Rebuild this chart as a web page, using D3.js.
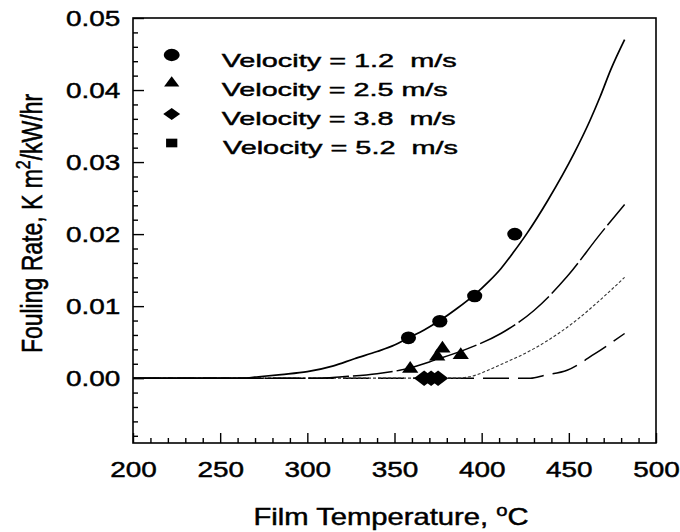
<!DOCTYPE html>
<html>
<head>
<meta charset="utf-8">
<script src="https://cdn.jsdelivr.net/npm/d3@7"></script>
<style>
  body { margin: 0; background: #fff; }
  svg { display: block; }
  text { font-family: "Liberation Sans", Arial, sans-serif; fill: #000; stroke: #000; stroke-width: 0.45px; }
</style>
</head>
<body>
<svg id="chart" width="680" height="532"></svg>
<script>
const W = 680, H = 532;
// scan is stretched sideways, so text and symbols get widened too
const stretch = 1.27;

const tempTicks = [200, 250, 300, 350, 400, 450, 500];
const rateTicks = [0.00, 0.01, 0.02, 0.03, 0.04, 0.05];

// fitted curves, [film temperature, fouling rate]
const curve12 = [[200,0],[262,0],[272,0.0002],[285,0.0005],[300,0.0009],[315,0.0017],[327,0.0027],[340,0.0037],[350,0.0046],[358,0.0056],[367,0.0067],[376,0.0080],[386,0.0097],[396,0.0116],[404,0.0134],[411,0.0152],[418,0.0174],[426,0.0201],[438,0.0247],[453,0.0312],[462,0.0357],[468,0.0391],[474,0.0428],[482,0.0470]];
const curve25 = [[200,0],[305,0],[320,0.0002],[340,0.0006],[353,0.0011],[360,0.0015],[373,0.0025],[392,0.0041],[411,0.0062],[430,0.0094],[449,0.0141],[468,0.0200],[482,0.0241]];
const curve38 = [[200,0],[385,0],[393,0.0002],[411,0.0019],[430,0.0041],[444,0.0062],[452,0.0076],[470,0.0113],[482,0.0140]];
const curve52 = [[200,0],[428,0],[436,0.0004],[449,0.0011],[465,0.0034],[482,0.0062]];

// measured points
const points12 = [[358,0.0056],[376,0.0079],[396,0.0114],[419,0.0200]];
const points25 = [[359,0.0013],[374.5,0.0030],[377.5,0.0041],[388,0.0032]];
const points38 = [[367,0],[371,0],[375,0]];

const legendLabels = ["Velocity = 1.2  m/s", "Velocity = 2.5 m/s", "Velocity = 3.8  m/s", "Velocity = 5.2  m/s"];

const svg = d3.select("#chart");
const x = d3.scaleLinear().domain([200, 500]).range([133, 656]);
const y = d3.scaleLinear().domain([-0.009, 0.05]).range([443, 18]);

// wide diamond like the scan
const wideDiamond = {
    draw(ctx, size) {
        const h = Math.sqrt(size / 2);
        ctx.moveTo(0, -h);
        ctx.lineTo(h * 1.1, 0);
        ctx.lineTo(0, h);
        ctx.lineTo(-h * 1.1, 0);
        ctx.closePath();
    }
};

// --- axes ---
const xMinor = d3.range(210, 500, 10).filter(v => v % 50 !== 0);
const yMinor = d3.range(-8, 50, 2).filter(v => v % 10 !== 0).map(v => v / 1000);

svg.append("g")
    .attr("transform", "translate(0,443)")
    .call(d3.axisBottom(x).tickValues(xMinor).tickSizeInner(-5).tickSizeOuter(0).tickFormat(""))
    .call(g => g.select(".domain").remove());

svg.append("g")
    .attr("transform", "translate(133,0)")
    .call(d3.axisLeft(y).tickValues(yMinor).tickSizeInner(-5).tickSizeOuter(0).tickFormat(""))
    .call(g => g.select(".domain").remove());

const xAxis = svg.append("g")
    .attr("transform", "translate(0,443)")
    .call(d3.axisBottom(x).tickValues(tempTicks).tickSizeInner(-10).tickSizeOuter(0).tickPadding(18))
    .call(g => g.select(".domain").remove());
xAxis.selectAll("text")
    .attr("font-size", 22)
    .attr("transform", `scale(${stretch},1)`);

const yAxis = svg.append("g")
    .attr("transform", "translate(133,0)")
    .call(d3.axisLeft(y).tickValues(rateTicks).tickSizeInner(-11).tickSizeOuter(0).tickPadding(10).tickFormat(d3.format(".2f")))
    .call(g => g.select(".domain").remove());
yAxis.selectAll("text")
    .attr("font-size", 22)
    .attr("transform", `scale(${stretch},1)`);

svg.selectAll(".tick line").attr("stroke", "#000").attr("stroke-width", 1.4);

// frame
svg.append("rect")
    .attr("x", x(200)).attr("y", y(0.05))
    .attr("width", x(500) - x(200)).attr("height", y(-0.009) - y(0.05))
    .attr("fill", "none").attr("stroke", "#000").attr("stroke-width", 1.6);

// --- curves ---
const line = d3.line()
    .x(d => x(d[0]))
    .y(d => y(d[1]))
    .curve(d3.curveMonotoneX);

const curves = [
    {data: curve52, dash: "26,9", width: 1.5, color: "#000"},
    {data: curve38, dash: "3,2", width: 1.1, color: "#333"},
    {data: curve25, dash: "40,4", width: 1.5, color: "#000"},
    {data: curve12, dash: null, width: 1.7, color: "#000"}
];
svg.selectAll(".curve")
    .data(curves)
    .enter().append("path")
    .attr("class", "curve")
    .attr("d", d => line(d.data))
    .attr("fill", "none")
    .attr("stroke", d => d.color)
    .attr("stroke-width", d => d.width)
    .attr("stroke-dasharray", d => d.dash);

// --- markers ---
function drawPoints(data, type, size) {
    svg.append("g").selectAll("path")
        .data(data)
        .enter().append("path")
        .attr("d", d3.symbol().type(type).size(size))
        .attr("transform", d => `translate(${x(d[0])},${y(d[1])}) scale(1.2,1)`)
        .attr("fill", "#000");
}
drawPoints(points12, d3.symbolCircle, 125);
drawPoints(points25, d3.symbolTriangle, 80);
drawPoints(points38, wideDiamond, 120);

// --- legend ---
const legendTypes = [
    {type: d3.symbolCircle, size: 118, sy: 55},
    {type: d3.symbolTriangle, size: 60, sy: 83},
    {type: wideDiamond, size: 70, sy: 114},
    {type: d3.symbolSquare, size: 75, sy: 143}
];
const legendBase = [67, 96, 125, 154];
const legendX = [221.7, 221.7, 221.7, 223];
const legendLen = [235, 226, 234, 235];

svg.append("g").selectAll("path")
    .data(legendTypes)
    .enter().append("path")
    .attr("d", d => d3.symbol().type(d.type).size(d.size)())
    .attr("transform", d => `translate(171.7,${d.sy}) scale(1.3,1)`)
    .attr("fill", "#000");

svg.append("g").selectAll("text")
    .data(legendLabels)
    .enter().append("text")
    .attr("x", (_, i) => legendX[i])
    .attr("y", (_, i) => legendBase[i])
    .attr("font-size", 19)
    .attr("textLength", (_, i) => legendLen[i])
    .attr("lengthAdjust", "spacingAndGlyphs")
    .style("white-space", "pre")
    .text(d => d);

// --- axis titles ---
const xTitle = svg.append("text")
    .attr("transform", `translate(391,525) scale(${stretch},1)`)
    .attr("text-anchor", "middle")
    .attr("font-size", 23);
xTitle.append("tspan").text("Film Temperature, ");
xTitle.append("tspan").attr("font-size", 16).attr("dy", -9).text("o");
xTitle.append("tspan").attr("dy", 9).text("C");

const yTitle = svg.append("text")
    .attr("transform", `translate(41.7,223.5) scale(${stretch},1) rotate(-90)`)
    .attr("text-anchor", "middle")
    .attr("font-size", 23);
yTitle.append("tspan").text("Fouling Rate, K m");
yTitle.append("tspan").attr("font-size", 16).attr("dy", -9).text("2");
yTitle.append("tspan").attr("dy", 9).text("/kW/hr");
</script>
</body>
</html>
